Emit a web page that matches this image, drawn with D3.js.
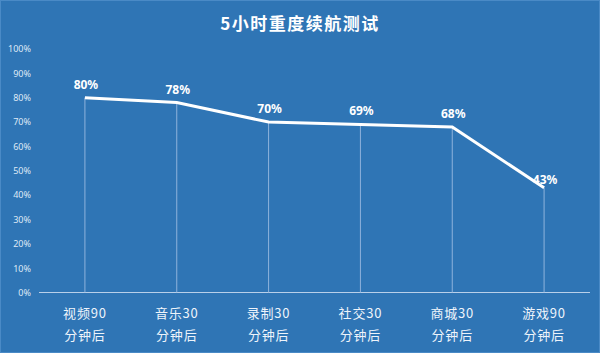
<!DOCTYPE html>
<html>
<head>
<meta charset="utf-8">
<script src="https://cdn.jsdelivr.net/npm/d3@7"></script>
<style>
  body { margin: 0; background: #2f75b5; }
  svg { display: block; font-family: "Noto Sans CJK SC", "Noto Sans", sans-serif; }
</style>
</head>
<body>
<svg id="chart"></svg>
<script>
// chart data
const categories = ["视频90|分钟后", "音乐30|分钟后", "录制30|分钟后", "社交30|分钟后", "商城30|分钟后", "游戏90|分钟后"];
const values = [80, 78, 70, 69, 68, 43];
const yTicks = [0, 10, 20, 30, 40, 50, 60, 70, 80, 90, 100];
const title = "5小时重度续航测试";

const width = 600, height = 353;
const margin = { top: 49, right: 10, bottom: 60, left: 39 };

const svg = d3.select("#chart").attr("width", width).attr("height", height);

// background with a thin bevel edge
svg.append("rect").attr("width", width).attr("height", height).attr("fill", "#2f75b5");
svg.append("rect").attr("x", 0.5).attr("y", 0.5).attr("width", width - 1).attr("height", height - 1)
  .attr("fill", "none").attr("stroke", "#4a8ac6").attr("stroke-width", 1);

const x = d3.scaleBand().domain(categories).range([margin.left, 590]);
const y = d3.scaleLinear().domain([0, 100]).range([292.5, margin.top]);

// title
svg.append("text")
  .attr("x", 300).attr("y", 30)
  .attr("text-anchor", "middle")
  .attr("fill", "#ffffff")
  .attr("font-size", 17)
  .attr("font-weight", "bold")
  .attr("letter-spacing", 1.5)
  .text(title);

// y axis labels
const yAxis = d3.axisLeft(y).tickValues(yTicks).tickFormat(d => d + "%").tickSize(0).tickPadding(0);
svg.append("g")
  .attr("transform", "translate(31,0)")
  .call(yAxis)
  .call(g => g.select(".domain").remove())
  .call(g => g.selectAll("text").attr("fill", "#dfe9f5").attr("font-size", 9)
    .attr("font-family", "'Noto Sans', sans-serif"));

// baseline
svg.append("line")
  .attr("x1", margin.left).attr("x2", 590)
  .attr("y1", y(0)).attr("y2", y(0))
  .attr("stroke", "#b9d0ea").attr("stroke-width", 1.2);

const cx = d => x(d) + x.bandwidth() / 2;

// drop lines
svg.append("g").selectAll("line")
  .data(categories)
  .join("line")
  .attr("x1", d => cx(d)).attr("x2", d => cx(d))
  .attr("y1", (d, i) => y(values[i])).attr("y2", y(0))
  .attr("stroke", "#8fb3dc").attr("stroke-width", 1);

// main line
const line = d3.line()
  .x((d, i) => cx(categories[i]))
  .y(d => y(d));
svg.append("path")
  .datum(values)
  .attr("d", line)
  .attr("fill", "none")
  .attr("stroke", "#ffffff")
  .attr("stroke-width", 3)
  .attr("stroke-linejoin", "miter");

// value labels
svg.append("g").selectAll("text")
  .data(values)
  .join("text")
  .attr("x", (d, i) => cx(categories[i]) + 1)
  .attr("y", (d, i) => y(d) - (i === values.length - 1 ? 4 : 9))
  .attr("text-anchor", "middle")
  .attr("fill", "#ffffff")
  .attr("font-size", 12)
  .attr("font-weight", "bold")
  .attr("font-family", "'Noto Sans', sans-serif")
  .text(d => d + "%");

// category labels (two lines)
const cat = svg.append("g").selectAll("text")
  .data(categories)
  .join("text")
  .attr("x", d => cx(d))
  .attr("y", 318)
  .attr("text-anchor", "middle")
  .attr("fill", "#eef4fb")
  .attr("font-size", 13)
  .attr("letter-spacing", 0.8);
cat.each(function (d) {
  const parts = d.split("|");
  const t = d3.select(this);
  t.append("tspan").attr("x", cx(d)).attr("dy", 0).text(parts[0]);
  t.append("tspan").attr("x", cx(d)).attr("dy", 22).text(parts[1]);
});
</script>
</body>
</html>
